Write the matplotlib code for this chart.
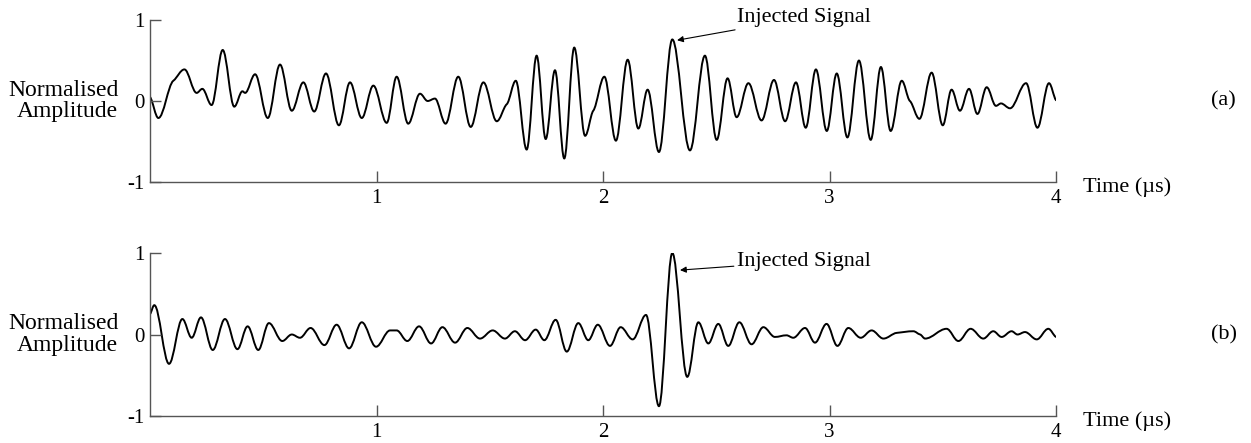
import numpy as np
import matplotlib.pyplot as plt
from matplotlib.path import Path
from matplotlib.patches import PathPatch

plt.rc('font', family='Liberation Serif')

# (a) received signal: turning points (time in us, normalised amplitude)
t_a = [0.000, 0.037, 0.103, 0.152, 0.206, 0.231, 0.272, 0.321, 0.372, 0.408,
       0.420, 0.464, 0.520, 0.574, 0.626, 0.677, 0.725, 0.777, 0.834, 0.883,
       0.935, 0.986, 1.045, 1.089, 1.140, 1.192, 1.226, 1.258, 1.305, 1.361,
       1.416, 1.472, 1.531, 1.575, 1.615, 1.663, 1.707, 1.747, 1.788, 1.829,
       1.873, 1.921, 1.957, 2.006, 2.057, 2.109, 2.156, 2.197, 2.247, 2.306,
       2.384, 2.450, 2.502, 2.550, 2.590, 2.642, 2.700, 2.755, 2.804, 2.852,
       2.895, 2.940, 2.988, 3.032, 3.079, 3.130, 3.182, 3.227, 3.270, 3.319,
       3.355, 3.397, 3.451, 3.500, 3.539, 3.576, 3.616, 3.653, 3.694, 3.735,
       3.757, 3.797, 3.868, 3.918, 3.969, 4.000]
v_a = [0.05, -0.21, 0.25, 0.39, 0.10, 0.15, -0.05, 0.63, -0.07, 0.12,
       0.10, 0.33, -0.21, 0.45, -0.12, 0.23, -0.13, 0.34, -0.30, 0.23,
       -0.21, 0.19, -0.27, 0.30, -0.28, 0.09, 0.00, 0.03, -0.28, 0.30,
       -0.32, 0.23, -0.25, -0.04, 0.25, -0.60, 0.56, -0.47, 0.38, -0.71,
       0.66, -0.43, -0.12, 0.30, -0.49, 0.51, -0.34, 0.14, -0.63, 0.76,
       -0.61, 0.56, -0.48, 0.28, -0.20, 0.22, -0.24, 0.26, -0.25, 0.23,
       -0.33, 0.39, -0.37, 0.34, -0.45, 0.50, -0.48, 0.42, -0.37, 0.25,
       0.00, -0.22, 0.35, -0.30, 0.14, -0.12, 0.15, -0.16, 0.17, -0.06,
       -0.03, -0.09, 0.22, -0.33, 0.22, 0.01]

# (b) processed signal
t_b = [0.000, 0.019, 0.084, 0.143, 0.184, 0.225, 0.277, 0.331, 0.386, 0.431,
       0.478, 0.525, 0.584, 0.626, 0.662, 0.709, 0.770, 0.824, 0.879, 0.935,
       0.998, 1.060, 1.089, 1.136, 1.188, 1.241, 1.291, 1.347, 1.401, 1.457,
       1.513, 1.567, 1.611, 1.656, 1.703, 1.741, 1.791, 1.840, 1.891, 1.935,
       1.977, 2.031, 2.078, 2.131, 2.190, 2.247, 2.306, 2.372, 2.421, 2.465,
       2.509, 2.553, 2.602, 2.656, 2.708, 2.759, 2.810, 2.840, 2.892, 2.936,
       2.987, 3.035, 3.083, 3.138, 3.186, 3.238, 3.297, 3.370, 3.400, 3.422,
       3.517, 3.569, 3.623, 3.679, 3.723, 3.760, 3.804, 3.830, 3.863, 3.915,
       3.966, 4.000]
v_b = [0.25, 0.36, -0.36, 0.19, -0.04, 0.21, -0.19, 0.19, -0.18, 0.10,
       -0.19, 0.14, -0.08, 0.00, -0.04, 0.08, -0.13, 0.12, -0.17, 0.15,
       -0.15, 0.05, 0.05, -0.08, 0.10, -0.11, 0.09, -0.10, 0.08, -0.05,
       0.05, -0.05, 0.04, -0.07, 0.06, -0.07, 0.18, -0.21, 0.14, -0.07,
       0.12, -0.14, 0.09, -0.06, 0.24, -0.88, 1.00, -0.52, 0.15, -0.11,
       0.13, -0.14, 0.15, -0.12, 0.09, -0.03, -0.01, -0.04, 0.08, -0.10,
       0.13, -0.14, 0.08, -0.04, 0.05, -0.05, 0.02, 0.04, 0.00, -0.05,
       0.07, -0.08, 0.07, -0.05, 0.04, -0.03, 0.04, 0.00, 0.03, -0.06,
       0.07, -0.03]

x_ticks = [1, 2, 3, 4]
y_ticks = [-1, 0, 1]
y_ticklabels = ['-1', '0', '1']

# arrow tip and text anchor of the "Injected Signal" note
note_a = ((2.327, 0.75), (2.59, 1.03))
note_b = ((2.340, 0.79), (2.59, 0.90))

axis_col = '#555555'


def wave(ax, t, v, k=0.36):
    # smooth curve through the turning points, flat at every peak and trough
    t = np.asarray(t)
    v = np.asarray(v)
    n = len(t)
    m = np.zeros(n)
    m[0] = 0.5 * (v[1] - v[0]) / (t[1] - t[0])
    m[-1] = 0.5 * (v[-1] - v[-2]) / (t[-1] - t[-2])
    for i in range(1, n - 1):
        if (v[i] - v[i-1]) * (v[i+1] - v[i]) > 0:
            m[i] = 0.4 * (v[i+1] - v[i-1]) / (t[i+1] - t[i-1])
    verts = [(t[0], v[0])]
    codes = [Path.MOVETO]
    for i in range(1, n):
        dt = t[i] - t[i-1]
        verts += [(t[i-1] + k*dt, v[i-1] + m[i-1]*k*dt),
                  (t[i] - k*dt, v[i] - m[i]*k*dt),
                  (t[i], v[i])]
        codes += [Path.CURVE4] * 3
    ax.add_patch(PathPatch(Path(verts, codes), fill=False, lw=1.4,
                           ec='black', capstyle='round', joinstyle='round'))


def setup(ax, tag, note):
    ax.set_xlim(0, 4)
    ax.set_ylim(-1, 1)
    for s in ['top', 'right']:
        ax.spines[s].set_visible(False)
    for s in ['left', 'bottom']:
        ax.spines[s].set_color(axis_col)
        ax.spines[s].set_linewidth(1.0)
    ax.set_xticks(x_ticks)
    ax.set_yticks(y_ticks)
    ax.set_yticklabels(y_ticklabels)
    ax.tick_params(direction='in', length=8, width=1.0, color=axis_col,
                   labelsize=15, pad=4)
    ax.tick_params(axis='x', pad=5)
    ax.text(-0.035, 0.5, 'Normalised\nAmplitude', transform=ax.transAxes,
            ha='right', va='center', multialignment='right', fontsize=17,
            linespacing=1.05)
    ax.text(1.03, -0.03, 'Time (µs)', transform=ax.transAxes,
            ha='left', va='center', fontsize=16)
    ax.text(1.171, 0.5, tag, transform=ax.transAxes,
            ha='left', va='center', fontsize=16)
    ax.annotate('Injected Signal', xy=note[0], xytext=note[1],
                ha='left', va='center', fontsize=16, annotation_clip=False,
                arrowprops=dict(arrowstyle='-|>', lw=0.8, color='black',
                                mutation_scale=9, shrinkA=0, shrinkB=0))


fig = plt.figure(figsize=(12.51, 4.43), dpi=100)
ax1 = fig.add_axes([150/1251, 1 - 182/443, 906/1251, 162/443])
ax2 = fig.add_axes([150/1251, 1 - 416/443, 906/1251, 163/443])

wave(ax1, t_a, v_a)
wave(ax2, t_b, v_b)
setup(ax1, '(a)', note_a)
setup(ax2, '(b)', note_b)

plt.savefig('out.png', dpi=100)
plt.close()
